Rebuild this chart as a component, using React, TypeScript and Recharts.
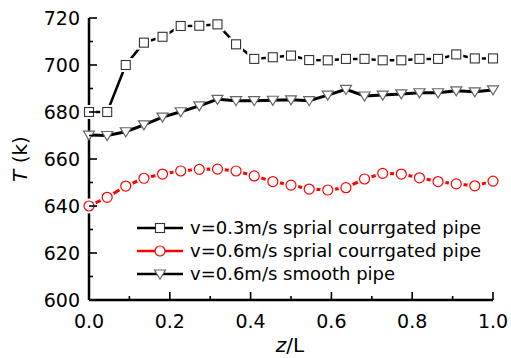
// Temperature along the pipe (z/L) for two corrugated pipes and one smooth pipe.
// Origin-style frame: boxed plot, inward ticks, legend inside the plot.

import { LineChart, Line, XAxis, YAxis } from 'recharts'

// ── Data ──────────────────────────────────────────────────────────────────────
const zValues = [
  0, 0.045, 0.091, 0.136, 0.182, 0.227, 0.273, 0.318, 0.364, 0.409, 0.455, 0.5,
  0.545, 0.591, 0.636, 0.682, 0.727, 0.773, 0.818, 0.864, 0.909, 0.955, 1.0,
]
const tCorrugated03 = [
  680, 680, 700, 709.5, 712, 716.6, 716.7, 717.3, 708.8, 702.6, 703.3, 704,
  702.1, 702, 702.6, 702.6, 702, 702, 702.6, 702.6, 704.5, 702.8, 702.8,
]
const tCorrugated06 = [
  640, 643.7, 648.5, 651.8, 653.6, 654.9, 655.6, 655.7, 654.9, 652.8, 650.4, 648.9,
  647.2, 646.8, 647.8, 651.5, 653.9, 653.6, 652, 650.4, 649.4, 648.6, 650.6,
]
const tSmooth06 = [
  670.2, 670, 671.6, 674.5, 677.8, 680.1, 682.6, 685.4, 684.8, 684.8, 685, 685.2,
  684.8, 687.2, 689.6, 686.8, 687.2, 687.7, 688.2, 688.2, 689, 688.6, 689.4,
]
const xTicks = [0, 0.1, 0.2, 0.3, 0.4, 0.5, 0.6, 0.7, 0.8, 0.9, 1.0]
const yTicks = [600, 610, 620, 630, 640, 650, 660, 670, 680, 690, 700, 710, 720]
const seriesNames = [
  'v=0.3m/s sprial courrgated pipe',
  'v=0.6m/s sprial courrgated pipe',
  'v=0.6m/s smooth pipe',
]

const rows = zValues.map((z, i) => ({
  z,
  a: tCorrugated03[i],
  b: tCorrugated06[i],
  c: tSmooth06[i],
}))

const FONT = '"DejaVu Sans", sans-serif'

// ── Markers ───────────────────────────────────────────────────────────────────
// white halo behind square/circle gives the "gap to symbol" look
function SquareDot({ cx, cy, index }: any) {
  return (
    <g key={`sq-${index}`}>
      <rect x={cx - 7} y={cy - 7} width={14} height={14} fill="#fff" />
      <rect x={cx - 4.5} y={cy - 4.5} width={9} height={9} fill="#fff" stroke="#333" strokeWidth={1.1} />
    </g>
  )
}

function CircleDot({ cx, cy, index }: any) {
  return (
    <g key={`ci-${index}`}>
      <circle cx={cx} cy={cy} r={7.5} fill="#fff" />
      <circle cx={cx} cy={cy} r={5} fill="#fff" stroke="#ff0000" strokeWidth={1.2} />
    </g>
  )
}

function TriangleDot({ cx, cy, index }: any) {
  return (
    <polygon
      key={`tr-${index}`}
      points={`${cx - 5.5},${cy - 4} ${cx + 5.5},${cy - 4} ${cx},${cy + 5}`}
      fill="#fff"
      stroke="#666"
      strokeWidth={1.2}
    />
  )
}

// ── Ticks (drawn inward, labels only on majors) ──────────────────────────────
function LeftTick({ x, y, payload }: any) {
  const major = payload.value % 20 === 0
  return (
    <g>
      <line x1={x} x2={x + (major ? 8 : 4)} y1={y} y2={y} stroke="#000" strokeWidth={1.6} />
      {major && (
        <text x={x - 9} y={y} dy="0.36em" textAnchor="end" fontSize={19} fontFamily={FONT} fill="#000">
          {payload.value}
        </text>
      )}
    </g>
  )
}

function BottomTick({ x, y, payload }: any) {
  const major = Math.round(payload.value * 10) % 2 === 0
  return (
    <g>
      <line x1={x} x2={x} y1={y} y2={y - (major ? 8 : 4)} stroke="#000" strokeWidth={1.6} />
      {major && (
        <text x={x} y={y + 21} dy="0.36em" textAnchor="middle" fontSize={19} fontFamily={FONT} fill="#000">
          {payload.value.toFixed(1)}
        </text>
      )}
    </g>
  )
}

function TopTick({ x, y }: any) {
  return <line x1={x} x2={x} y1={y} y2={y + 4} stroke="#999" strokeWidth={1} />
}

function RightTick({ x, y }: any) {
  return <line x1={x - 4} x2={x} y1={y} y2={y} stroke="#999" strokeWidth={1} />
}

// ── Legend (inside the plot) ──────────────────────────────────────────────────
function PlotLegend() {
  const rowsY = [228, 251, 274]
  const colors = ['#000', '#ff0000', '#000']
  const dots = [SquareDot, CircleDot, TriangleDot]
  return (
    <g>
      {seriesNames.map((name, i) => {
        const Dot = dots[i]
        return (
          <g key={name}>
            <line x1={137} x2={183} y1={rowsY[i]} y2={rowsY[i]} stroke={colors[i]} strokeWidth={2.5} />
            {i === 2 ? (
              <TriangleDot cx={160} cy={rowsY[i]} index={99} />
            ) : (
              <g>
                {i === 0 ? (
                  <rect x={155.5} y={rowsY[i] - 4.5} width={9} height={9} fill="#fff" stroke="#333" strokeWidth={1.1} />
                ) : (
                  <circle cx={160} cy={rowsY[i]} r={5} fill="#fff" stroke="#ff0000" strokeWidth={1.2} />
                )}
              </g>
            )}
            <text x={190} y={rowsY[i]} dy="0.36em" fontSize={18} fontFamily={FONT} fill="#000">
              {name}
            </text>
          </g>
        )
      })}
    </g>
  )
}

// ─────────────────────────────────────────────────────────────────────────────
export default function App() {
  return (
    <div style={{ position: 'absolute', left: 0, top: 0, background: '#fff' }}>
      <LineChart
        width={511}
        height={358}
        data={rows}
        margin={{ top: 18, right: 18, left: 0, bottom: 0 }}
      >
        <XAxis
          dataKey="z"
          type="number"
          domain={[0, 1]}
          ticks={xTicks}
          interval={0}
          height={58}
          tickSize={0}
          tickMargin={0}
          tickLine={false}
          axisLine={{ stroke: '#000', strokeWidth: 2.5 }}
          tick={<BottomTick />}
        />
        <XAxis
          xAxisId="top"
          dataKey="z"
          type="number"
          orientation="top"
          domain={[0, 1]}
          ticks={xTicks}
          interval={0}
          height={0}
          tickSize={0}
          tickMargin={0}
          tickLine={false}
          axisLine={{ stroke: '#000', strokeWidth: 2.2 }}
          tick={<TopTick />}
        />
        <YAxis
          type="number"
          domain={[600, 720]}
          ticks={yTicks}
          interval={0}
          width={89}
          tickSize={0}
          tickMargin={0}
          tickLine={false}
          axisLine={{ stroke: '#000', strokeWidth: 2.5 }}
          tick={<LeftTick />}
        />
        <YAxis
          yAxisId="right"
          orientation="right"
          type="number"
          domain={[600, 720]}
          ticks={yTicks}
          interval={0}
          width={0}
          tickSize={0}
          tickMargin={0}
          tickLine={false}
          axisLine={{ stroke: '#000', strokeWidth: 2.5 }}
          tick={<RightTick />}
        />

        <Line
          dataKey="c"
          stroke="#000"
          strokeWidth={3}
          dot={TriangleDot}
          activeDot={false}
          isAnimationActive={false}
        />
        <Line
          dataKey="b"
          stroke="#ff0000"
          strokeWidth={3}
          dot={CircleDot}
          activeDot={false}
          isAnimationActive={false}
        />
        <Line
          dataKey="a"
          stroke="#000"
          strokeWidth={2.5}
          dot={SquareDot}
          activeDot={false}
          isAnimationActive={false}
        />

        <PlotLegend />

        {/* axis titles */}
        <text x={290} y={345} dy="0.36em" textAnchor="middle" fontSize={20} fontFamily={FONT} fill="#000">
          <tspan fontStyle="italic">z</tspan>/L
        </text>
        <text
          x={20}
          y={159}
          dy="0.36em"
          textAnchor="middle"
          fontSize={20}
          fontFamily={FONT}
          fill="#000"
          transform="rotate(-90 20 159)"
        >
          <tspan fontStyle="italic">T</tspan> (k)
        </text>
      </LineChart>
    </div>
  )
}
